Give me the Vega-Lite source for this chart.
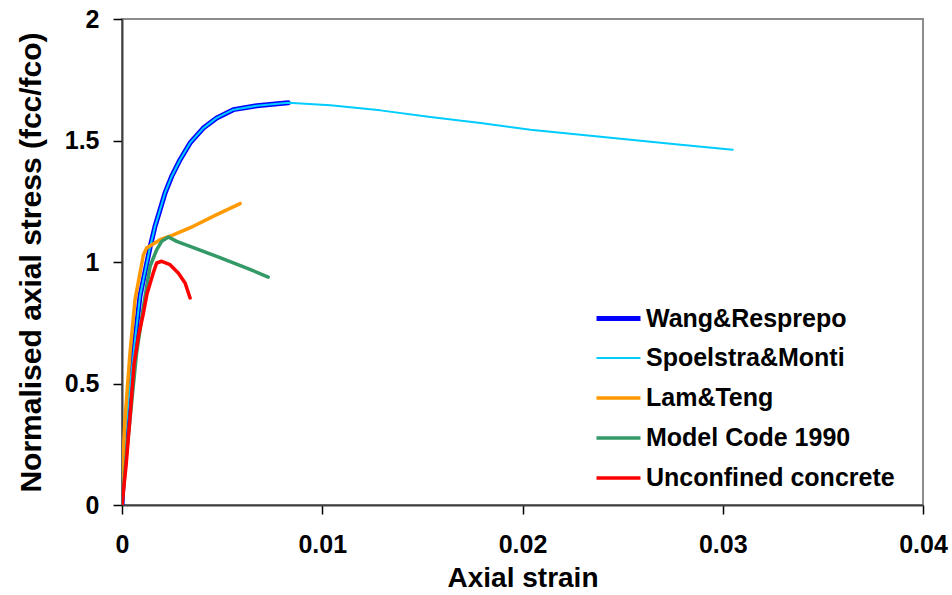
{
  "$schema": "https://vega.github.io/schema/vega-lite/v6.json",
  "width": 801,
  "height": 486,
  "autosize": {"type": "none"},
  "padding": {"left": 122, "top": 19, "right": 29, "bottom": 90},
  "background": "white",
  "config": {
    "view": {"stroke": "#8c8c8c", "strokeWidth": 2},
    "font": "Liberation Sans",
    "axis": {
      "grid": false,
      "labelFlush": false,
      "domainColor": "#404040",
      "domainWidth": 2,
      "tickColor": "#000000",
      "tickWidth": 1.5,
      "tickSize": 9,
      "labelFont": "Liberation Sans",
      "labelFontWeight": "bold",
      "labelFontSize": 25,
      "labelColor": "#000000",
      "titleFont": "Liberation Sans",
      "titleFontWeight": "bold",
      "titleColor": "#000000"
    },
    "legend": {
      "labelFont": "Liberation Sans",
      "labelFontWeight": "bold",
      "labelFontSize": 25,
      "labelColor": "#000000",
      "labelLimit": 0
    }
  },
  "data": {
    "values": [
      {"series": "Wang&Resprepo", "strain": 0, "stress": 0},
      {"series": "Wang&Resprepo", "strain": 0.00015, "stress": 0.28},
      {"series": "Wang&Resprepo", "strain": 0.0004, "stress": 0.49},
      {"series": "Wang&Resprepo", "strain": 0.00065, "stress": 0.68},
      {"series": "Wang&Resprepo", "strain": 0.0009, "stress": 0.86},
      {"series": "Wang&Resprepo", "strain": 0.0014, "stress": 1.06},
      {"series": "Wang&Resprepo", "strain": 0.00165, "stress": 1.147},
      {"series": "Wang&Resprepo", "strain": 0.0019, "stress": 1.215},
      {"series": "Wang&Resprepo", "strain": 0.00215, "stress": 1.284},
      {"series": "Wang&Resprepo", "strain": 0.00248, "stress": 1.352},
      {"series": "Wang&Resprepo", "strain": 0.0029, "stress": 1.421},
      {"series": "Wang&Resprepo", "strain": 0.0034, "stress": 1.49},
      {"series": "Wang&Resprepo", "strain": 0.00406, "stress": 1.551},
      {"series": "Wang&Resprepo", "strain": 0.00473, "stress": 1.593},
      {"series": "Wang&Resprepo", "strain": 0.00556, "stress": 1.627},
      {"series": "Wang&Resprepo", "strain": 0.00673, "stress": 1.643},
      {"series": "Wang&Resprepo", "strain": 0.0083, "stress": 1.655},
      {"series": "Spoelstra&Monti", "strain": 0, "stress": 0},
      {"series": "Spoelstra&Monti", "strain": 0.00015, "stress": 0.28},
      {"series": "Spoelstra&Monti", "strain": 0.0004, "stress": 0.49},
      {"series": "Spoelstra&Monti", "strain": 0.00065, "stress": 0.68},
      {"series": "Spoelstra&Monti", "strain": 0.0009, "stress": 0.86},
      {"series": "Spoelstra&Monti", "strain": 0.0014, "stress": 1.06},
      {"series": "Spoelstra&Monti", "strain": 0.00165, "stress": 1.147},
      {"series": "Spoelstra&Monti", "strain": 0.0019, "stress": 1.215},
      {"series": "Spoelstra&Monti", "strain": 0.00215, "stress": 1.284},
      {"series": "Spoelstra&Monti", "strain": 0.00248, "stress": 1.352},
      {"series": "Spoelstra&Monti", "strain": 0.0029, "stress": 1.421},
      {"series": "Spoelstra&Monti", "strain": 0.0034, "stress": 1.49},
      {"series": "Spoelstra&Monti", "strain": 0.00406, "stress": 1.551},
      {"series": "Spoelstra&Monti", "strain": 0.00473, "stress": 1.593},
      {"series": "Spoelstra&Monti", "strain": 0.00556, "stress": 1.627},
      {"series": "Spoelstra&Monti", "strain": 0.00673, "stress": 1.643},
      {"series": "Spoelstra&Monti", "strain": 0.0083, "stress": 1.655},
      {"series": "Spoelstra&Monti", "strain": 0.0104, "stress": 1.645},
      {"series": "Spoelstra&Monti", "strain": 0.0129, "stress": 1.624},
      {"series": "Spoelstra&Monti", "strain": 0.0154, "stress": 1.597},
      {"series": "Spoelstra&Monti", "strain": 0.0179, "stress": 1.572},
      {"series": "Spoelstra&Monti", "strain": 0.0204, "stress": 1.544},
      {"series": "Spoelstra&Monti", "strain": 0.0229, "stress": 1.524},
      {"series": "Spoelstra&Monti", "strain": 0.0254, "stress": 1.503},
      {"series": "Spoelstra&Monti", "strain": 0.0279, "stress": 1.483},
      {"series": "Spoelstra&Monti", "strain": 0.0305, "stress": 1.462},
      {"series": "Lam&Teng", "strain": 0, "stress": 0},
      {"series": "Lam&Teng", "strain": 0.00003, "stress": 0.17},
      {"series": "Lam&Teng", "strain": 0.00015, "stress": 0.351},
      {"series": "Lam&Teng", "strain": 0.0004, "stress": 0.626},
      {"series": "Lam&Teng", "strain": 0.00065, "stress": 0.845},
      {"series": "Lam&Teng", "strain": 0.00107, "stress": 1.03},
      {"series": "Lam&Teng", "strain": 0.00123, "stress": 1.058},
      {"series": "Lam&Teng", "strain": 0.0019, "stress": 1.092},
      {"series": "Lam&Teng", "strain": 0.00256, "stress": 1.112},
      {"series": "Lam&Teng", "strain": 0.00356, "stress": 1.147},
      {"series": "Lam&Teng", "strain": 0.00473, "stress": 1.195},
      {"series": "Lam&Teng", "strain": 0.0059, "stress": 1.24},
      {"series": "Model Code 1990", "strain": 0, "stress": 0},
      {"series": "Model Code 1990", "strain": 0.00023, "stress": 0.214},
      {"series": "Model Code 1990", "strain": 0.00048, "stress": 0.42},
      {"series": "Model Code 1990", "strain": 0.00073, "stress": 0.626},
      {"series": "Model Code 1990", "strain": 0.00107, "stress": 0.817},
      {"series": "Model Code 1990", "strain": 0.0014, "stress": 0.982},
      {"series": "Model Code 1990", "strain": 0.00173, "stress": 1.05},
      {"series": "Model Code 1990", "strain": 0.00198, "stress": 1.085},
      {"series": "Model Code 1990", "strain": 0.00232, "stress": 1.103},
      {"series": "Model Code 1990", "strain": 0.00273, "stress": 1.085},
      {"series": "Model Code 1990", "strain": 0.0034, "stress": 1.064},
      {"series": "Model Code 1990", "strain": 0.00473, "stress": 1.023},
      {"series": "Model Code 1990", "strain": 0.00623, "stress": 0.975},
      {"series": "Model Code 1990", "strain": 0.0073, "stress": 0.938},
      {"series": "Unconfined concrete", "strain": 0, "stress": 0},
      {"series": "Unconfined concrete", "strain": 0.0002, "stress": 0.16},
      {"series": "Unconfined concrete", "strain": 0.0004, "stress": 0.36},
      {"series": "Unconfined concrete", "strain": 0.0006, "stress": 0.58},
      {"series": "Unconfined concrete", "strain": 0.00082, "stress": 0.694},
      {"series": "Unconfined concrete", "strain": 0.00107, "stress": 0.79},
      {"series": "Unconfined concrete", "strain": 0.00124, "stress": 0.866},
      {"series": "Unconfined concrete", "strain": 0.00156, "stress": 0.955},
      {"series": "Unconfined concrete", "strain": 0.00173, "stress": 0.996},
      {"series": "Unconfined concrete", "strain": 0.00198, "stress": 1.003},
      {"series": "Unconfined concrete", "strain": 0.0024, "stress": 0.989},
      {"series": "Unconfined concrete", "strain": 0.00281, "stress": 0.955},
      {"series": "Unconfined concrete", "strain": 0.00315, "stress": 0.914},
      {"series": "Unconfined concrete", "strain": 0.0034, "stress": 0.852}
    ]
  },
  "mark": {"type": "line", "strokeCap": "round", "strokeJoin": "round", "clip": true},
  "encoding": {
    "x": {
      "field": "strain",
      "type": "quantitative",
      "scale": {"domain": [0, 0.04], "nice": false, "zero": false},
      "axis": {"values": [0, 0.01, 0.02, 0.03, 0.04], "format": "~g", "labelPadding": 18, "titlePadding": 7, "titleFontSize": 28, "title": "Axial strain"}
    },
    "y": {
      "field": "stress",
      "type": "quantitative",
      "scale": {"domain": [0, 2], "nice": false},
      "axis": {"values": [0, 0.5, 1, 1.5, 2], "format": "~g", "labelPadding": 14, "titlePadding": 18, "titleFontSize": 30, "title": "Normalised axial stress (fcc/fco)"}
    },
    "color": {
      "field": "series",
      "type": "nominal",
      "scale": {
        "domain": ["Wang&Resprepo", "Spoelstra&Monti", "Lam&Teng", "Model Code 1990", "Unconfined concrete"],
        "range": ["#0000FF", "#00CCFF", "#FF9900", "#339966", "#FF0000"]
      },
      "legend": {
        "title": null,
        "orient": "none",
        "legendX": 472,
        "legendY": 275,
        "symbolType": "stroke",
        "symbolSize": 1936,
        "labelOffset": 3,
        "rowPadding": 3,
        "padding": 0
      }
    },
    "strokeWidth": {
      "field": "series",
      "type": "nominal",
      "scale": {
        "type": "ordinal",
        "domain": ["Wang&Resprepo", "Spoelstra&Monti", "Lam&Teng", "Model Code 1990", "Unconfined concrete"],
        "range": [5, 2, 3.5, 3.5, 3.5]
      },
      "legend": {
        "title": null,
        "orient": "none",
        "legendX": 472,
        "legendY": 275,
        "symbolType": "stroke",
        "symbolSize": 1936,
        "labelOffset": 3,
        "rowPadding": 3,
        "padding": 0
      }
    }
  }
}
